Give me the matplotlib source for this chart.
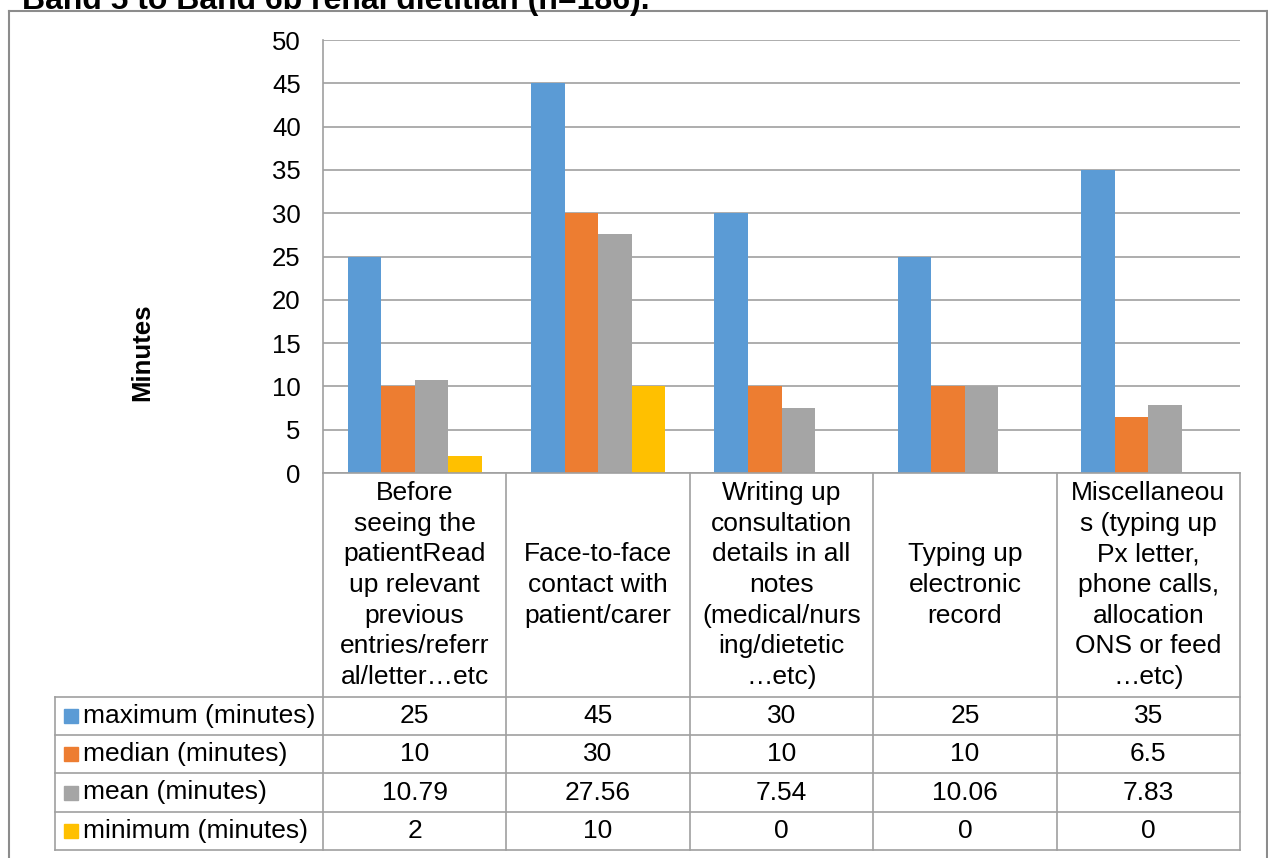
import matplotlib
matplotlib.use("Agg")
import matplotlib.pyplot as plt
from matplotlib.patches import Rectangle

plt.rcParams['font.family'] = ['Liberation Sans', 'DejaVu Sans']

title = "Band 5 to Band 6b renal dietitian (n=186)."
ylabel = "Minutes"
categories = [
    "Before\nseeing the\npatientRead\nup relevant\nprevious\nentries/referr\nal/letter…etc",
    "Face-to-face\ncontact with\npatient/carer",
    "Writing up\nconsultation\ndetails in all\nnotes\n(medical/nurs\ning/dietetic\n…etc)",
    "Typing up\nelectronic\nrecord",
    "Miscellaneou\ns (typing up\nPx letter,\nphone calls,\nallocation\nONS or feed\n…etc)",
]
series_names = ["maximum (minutes)", "median (minutes)", "mean (minutes)", "minimum (minutes)"]
maximum = [25, 45, 30, 25, 35]
median = [10, 30, 10, 10, 6.5]
mean = [10.79, 27.56, 7.54, 10.06, 7.83]
minimum = [2, 10, 0, 0, 0]
table_labels = [
    ["25", "45", "30", "25", "35"],
    ["10", "30", "10", "10", "6.5"],
    ["10.79", "27.56", "7.54", "10.06", "7.83"],
    ["2", "10", "0", "0", "0"],
]
yticks = [0, 5, 10, 15, 20, 25, 30, 35, 40, 45, 50]
colors = ["#5B9BD5", "#ED7D31", "#A5A5A5", "#FFC000"]

W, H = 1268, 858
fig = plt.figure(figsize=(W / 100, H / 100), dpi=100)

# pixel layout
ax_left, ax_right, ax_top, ax_bot = 323, 1240, 40, 473
ax = fig.add_axes([ax_left / W, 1 - ax_bot / H, (ax_right - ax_left) / W, (ax_bot - ax_top) / H])
series = [maximum, median, mean, minimum]
bw = 0.183
n = len(categories)
for k, vals in enumerate(series):
    xs = [i + (k - 1.5) * bw for i in range(n)]
    ax.bar(xs, vals, width=bw, color=colors[k], zorder=3)
ax.set_xlim(-0.5, n - 0.5)
ax.set_ylim(0, 50)
ax.set_yticks(yticks)
ax.set_yticklabels([str(t) for t in yticks], fontsize=18.5)
ax.tick_params(axis='y', length=0, pad=16)
ax.set_xticks([])
ax.grid(axis='y', color='#a0a0a0', lw=1.2, zorder=0)
for s in ['top', 'right', 'bottom']:
    ax.spines[s].set_visible(False)
ax.spines['left'].set_color('#a0a0a0')
ax.spines['left'].set_linewidth(1.2)
ax.patch.set_alpha(0)

# overlays in pixel coordinates
ov = fig.add_axes([0, 0, 1, 1], zorder=-1)
ov.set_xlim(0, W)
ov.set_ylim(H, 0)
ov.axis('off')
ov.patch.set_alpha(0)
ov2 = fig.add_axes([0, 0, 1, 1], zorder=5)
ov2.set_xlim(0, W)
ov2.set_ylim(H, 0)
ov2.axis('off')
ov2.patch.set_alpha(0)

gc = '#a0a0a0'
# outer frame
ov2.plot([9, 9], [10.5, H + 5], color='#8c8c8c', lw=1.5)
ov2.plot([9, 1267], [10.5, 10.5], color='#8c8c8c', lw=1.5)
ov2.plot([1267, 1267], [10.5, H + 5], color='#8c8c8c', lw=1.5)

colw = (ax_right - ax_left) / n
edges = [ax_left + i * colw for i in range(n + 1)]
row_y = [697, 735, 773, 812, 850]
leg_left = 55

# table lines
ov2.plot([ax_left, ax_right], [ax_bot, ax_bot], color=gc, lw=1.2)
for x in edges:
    ov2.plot([x, x], [ax_bot, row_y[-1]], color=gc, lw=1.2)
for y in row_y:
    ov2.plot([leg_left, ax_right], [y, y], color=gc, lw=1.2)
ov2.plot([leg_left, leg_left], [row_y[0], row_y[-1]], color=gc, lw=1.2)

# header text
fs = 19
line_h = 30.6
hdr_mid = (ax_bot + row_y[0]) / 2
for i, cat in enumerate(categories):
    lines = cat.split("\n")
    cx = (edges[i] + edges[i + 1]) / 2
    y0 = hdr_mid - (len(lines) - 1) * line_h / 2
    for j, ln in enumerate(lines):
        ov2.text(cx, y0 + j * line_h, ln, ha='center', va='center', fontsize=fs, color='black')

# data rows
for r in range(4):
    ymid = (row_y[r] + row_y[r + 1]) / 2
    ov2.add_patch(Rectangle((64, ymid - 7), 14, 14, color=colors[r]))
    ov2.text(83, ymid, series_names[r], ha='left', va='center', fontsize=fs)
    for i in range(n):
        cx = (edges[i] + edges[i + 1]) / 2
        ov2.text(cx, ymid, table_labels[r][i], ha='center', va='center', fontsize=fs)

# y label
ov2.text(142, 352, ylabel, rotation=90, ha='center', va='center', fontsize=18.5, fontweight='bold')
# title, clipped by the chart frame like the reference
t = ov2.text(22, 9, title, ha='left', va='baseline', fontsize=23, fontweight='bold')
clip = Rectangle((0, -20), W, 30.5, transform=ov2.transData)
t.set_clip_path(clip)

fig.savefig("out.png", dpi=100)
